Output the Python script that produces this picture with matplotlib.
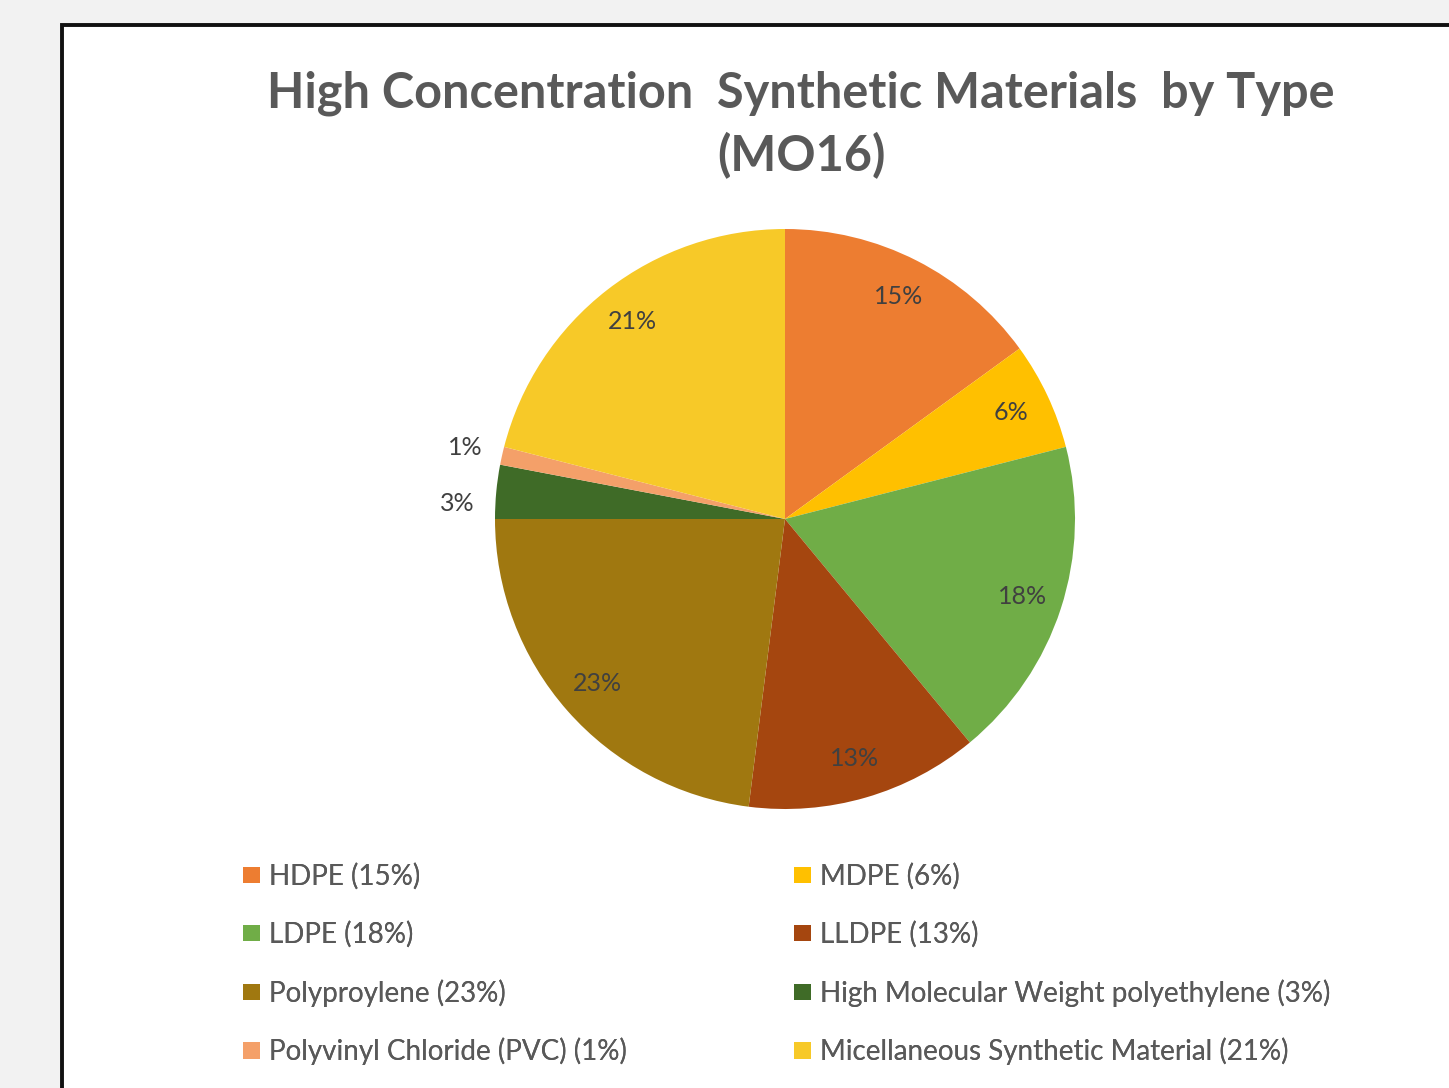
import matplotlib
matplotlib.use("Agg")
import matplotlib.pyplot as plt
import numpy as np
from matplotlib.patches import Rectangle, Patch

# ---------------------------------------------------------------------------
# Data
# ---------------------------------------------------------------------------
materials = [
    "HDPE",
    "MDPE",
    "LDPE",
    "LLDPE",
    "Polyproylene",
    "High Molecular Weight polyethylene",
    "Polyvinyl Chloride (PVC)",
    "Micellaneous Synthetic Material",
]
shares = [15, 6, 18, 13, 23, 3, 1, 21]
colors = ["#ED7D31", "#FFC000", "#70AD47", "#A5460F",
          "#A07810", "#3F6B27", "#F4A069", "#F7C928"]

TITLE = "High Concentration  Synthetic Materials  by Type\n(MO16)"

W, H = 1449, 1088
fig = plt.figure(figsize=(W / 100, H / 100), dpi=100, facecolor="#f2f2f2")

# white chart panel with black frame running off the right/bottom edge
fig.patches.append(Rectangle((62 / W, -0.1), 1.2, 1 - 25 / H + 0.1,
                             transform=fig.transFigure, facecolor="white",
                             edgecolor="#111111", linewidth=2.8, zorder=-5))

fig.text(801 / W, 1 - 125 / H, TITLE, ha="center", va="center",
         fontsize=35, fontweight="bold", color="#595959", family="Lato",
         linespacing=1.4)

# pie: centre (785, 519) px, radius 290 px
cx, cy, r = 785, 519, 290
half = r * 1.25
ax = fig.add_axes([(cx - half) / W, (H - cy - half) / H, 2 * half / W, 2 * half / H])
wedges, texts, autotexts = ax.pie(
    shares, colors=colors, startangle=90, counterclock=False,
    autopct="%1.0f%%", pctdistance=0.86,
    textprops=dict(fontsize=18, color="#404040", family="Lato"),
    wedgeprops=dict(linewidth=0),
)
ax.set_xlim(-1.25, 1.25)
ax.set_ylim(-1.25, 1.25)

# small slices: labels outside the pie, the lower one pushed toward its lower edge
for w, t, v in zip(wedges, autotexts, shares):
    if v < 5:
        frac = 0.5 if v < 2 else 0.75
        ang = np.deg2rad(w.theta1 + frac * (w.theta2 - w.theta1))
        t.set_position((1.13 * np.cos(ang), 1.13 * np.sin(ang)))
        t.set_ha("center")

# legend: two columns, filled row by row
handles = [Patch(facecolor=c, edgecolor="none") for c in colors]
labels = [f"{m} ({v}%)" for m, v in zip(materials, shares)]
for col, x0 in enumerate([243, 794]):
    idx = list(range(col, len(shares), 2))
    leg = fig.legend([handles[i] for i in idx], [labels[i] for i in idx],
                     loc="upper left", bbox_to_anchor=(x0 / W, 1 - 863 / H),
                     frameon=False, labelcolor="#595959",
                     prop=dict(family="Lato", size=20),
                     handlelength=0.62, handleheight=0.52, handletextpad=0.3,
                     labelspacing=1.12, borderaxespad=0, borderpad=0)
    fig.add_artist(leg)

fig.savefig("out.png", dpi=100, facecolor=fig.get_facecolor())
